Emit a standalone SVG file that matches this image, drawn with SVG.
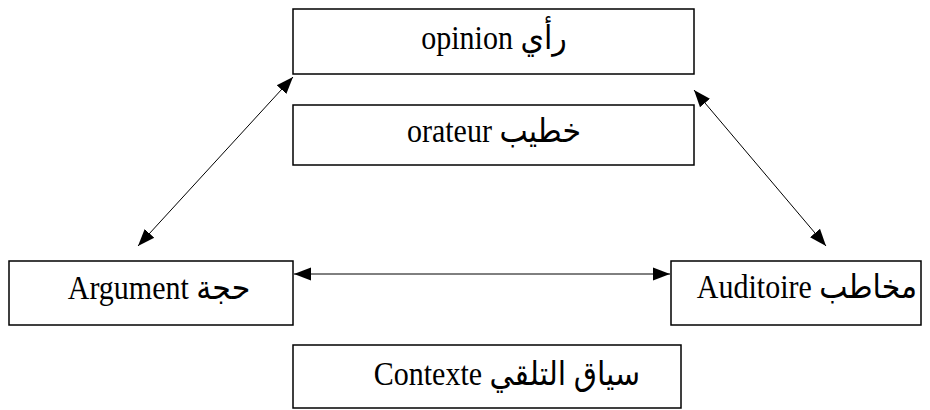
<svg xmlns="http://www.w3.org/2000/svg" width="930" height="410" viewBox="0 0 930 410">
<style>
.box{fill:#fff;stroke:#000;stroke-width:1.5}
.lbl{font-family:"Liberation Serif","DejaVu Serif","DejaVu Sans",serif;font-size:30px;fill:#000;text-anchor:middle}
.con{stroke:#000;stroke-width:1;fill:none;marker-start:url(#ah);marker-end:url(#ah)}
</style>
<defs>
<marker id="ah" markerUnits="userSpaceOnUse" markerWidth="18" markerHeight="16" refX="17" refY="8" orient="auto-start-reverse">
<path d="M0,1.5 L17,8 L0,14.5 z" fill="#000"/>
</marker>
</defs>
<rect width="930" height="410" fill="#fff"/>
<g id="connectors">
<line class="con" x1="138" y1="246" x2="293" y2="77"/>
<line class="con" x1="694" y1="90" x2="826" y2="246"/>
<line class="con" x1="294" y1="274" x2="670" y2="274"/>
</g>
<g id="opinion">
<rect class="box" x="293" y="9" width="401" height="65"/>
<text class="lbl" transform="translate(494,49) scale(1,1.1)">opinion رأي</text>
</g>
<g id="orateur">
<rect class="box" x="293" y="105" width="401" height="60"/>
<text class="lbl" transform="translate(494,142) scale(1,1.1)">orateur خطيب</text>
</g>
<g id="argument">
<rect class="box" x="9" y="261" width="284" height="64"/>
<text class="lbl" transform="translate(159,299) scale(1,1.1)">Argument حجة</text>
</g>
<g id="auditoire">
<rect class="box" x="671" y="261" width="250" height="64"/>
<text class="lbl" transform="translate(807,298) scale(1,1.1)">Auditoire مخاطب</text>
</g>
<g id="contexte">
<rect class="box" x="293" y="345" width="388" height="63"/>
<text class="lbl" transform="translate(507,385) scale(1,1.1)">Contexte سياق التلقي</text>
</g>
</svg>
